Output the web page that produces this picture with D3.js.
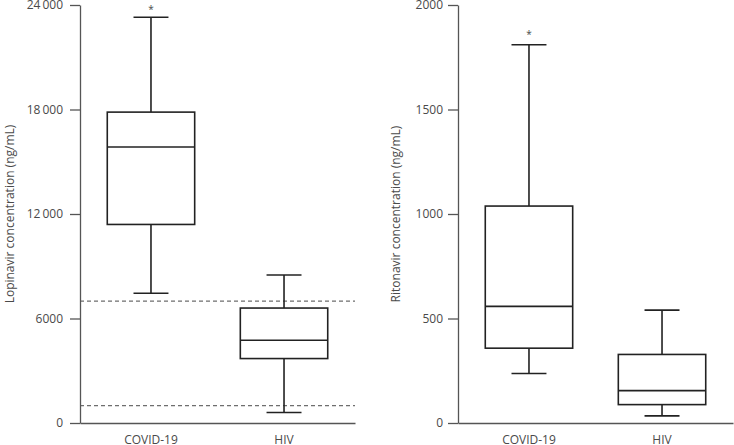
<!DOCTYPE html>
<html lang="en">
	<head>
		<meta charset="utf-8">
		<title>Lopinavir and ritonavir concentrations</title>
		<script type="text/javascript" src="https://cdn.jsdelivr.net/npm/d3@7"></script>
		<style type="text/css">
			body { margin: 0; background: #fff; }
			text { font-family: "Open Sans", sans-serif; fill: #4a4a4a; }
		</style>
	</head>
	<body>
		<script type="text/javascript">

			//Data
			var groups = ["COVID-19", "HIV"];

			// [lower whisker, Q1, median, Q3, upper whisker]
			var lopinavirBoxes = [
				[7450, 11400, 15850, 17850, 23300],
				[600, 3700, 4750, 6600, 8500]
			];
			var ritonavirBoxes = [
				[237, 358, 558, 1038, 1810],
				[34, 88, 155, 328, 540]
			];

			var lopinavirTicks = [0, 6000, 12000, 18000, 24000];
			var ritonavirTicks = [0, 500, 1000, 1500, 2000];

			var lopinavirRefLines = [7000, 1000];
			var lopinavirStar = [23900, null];
			var ritonavirStar = [1870, null];

			//Size
			var w = 734;
			var h = 445;

			var svg = d3.select("body")
						.append("svg")
						.attr("width", w)
						.attr("height", h);

			var fmt = function(d) {
				return d >= 10000 ? d3.format(",")(d).replace(",", "\u2009") : String(d);
			};

			function drawPanel(opts) {
				var g = svg.append("g");

				var x = d3.scaleBand()
						  .domain(groups)
						  .range([opts.left, opts.right])
						  .paddingInner(0.343)
						  .paddingOuter(0.205);

				var y = d3.scaleLinear()
						  .domain([0, opts.max])
						  .range([423, 5]);

				// reference lines
				g.selectAll("line.ref")
				 .data(opts.refs || [])
				 .enter()
				 .append("line")
				 .attr("x1", opts.left)
				 .attr("x2", opts.right)
				 .attr("y1", function(d) { return y(d); })
				 .attr("y2", function(d) { return y(d); })
				 .attr("stroke", "#6e6e6e")
				 .attr("stroke-width", 1.2)
				 .attr("stroke-dasharray", "4,3");

				// y axis
				var yAxis = g.append("g")
							 .attr("transform", "translate(" + opts.left + ",0)")
							 .call(d3.axisLeft(y)
									 .tickValues(opts.ticks)
									 .tickFormat(fmt)
									 .tickSize(10)
									 .tickSizeOuter(0)
									 .tickPadding(opts.pad));
				yAxis.select(".domain").attr("stroke", "#555").attr("stroke-width", 1.3);
				yAxis.selectAll(".tick line").attr("stroke", "#555").attr("stroke-width", 1.3);
				yAxis.selectAll(".tick text")
					 .attr("font-size", "12px")
					 .attr("font-family", "'Open Sans', sans-serif")
					 .attr("fill", "#4a4a4a");

				// x axis
				var xAxis = g.append("g")
							 .attr("transform", "translate(0,423)")
							 .call(d3.axisBottom(x).tickSize(0).tickPadding(12));
				xAxis.select(".domain").attr("stroke", "#555").attr("stroke-width", 1.3);
				xAxis.selectAll(".tick text")
					 .attr("font-size", "12px")
					 .attr("font-family", "'Open Sans', sans-serif")
					 .attr("fill", "#4a4a4a");

				// boxes
				var bw = x.bandwidth();
				var box = g.selectAll("g.box")
						   .data(opts.boxes)
						   .enter()
						   .append("g")
						   .attr("transform", function(d, i) {
								return "translate(" + x(groups[i]) + ",0)";
						   });

				box.append("line")
				   .attr("x1", bw / 2).attr("x2", bw / 2)
				   .attr("y1", function(d) { return y(d[0]); })
				   .attr("y2", function(d) { return y(d[4]); });

				box.append("rect")
				   .attr("x", 0)
				   .attr("width", bw)
				   .attr("y", function(d) { return y(d[3]); })
				   .attr("height", function(d) { return y(d[1]) - y(d[3]); })
				   .attr("fill", "#fff");

				box.append("line")
				   .attr("x1", 0).attr("x2", bw)
				   .attr("y1", function(d) { return y(d[2]); })
				   .attr("y2", function(d) { return y(d[2]); });

				[0, 4].forEach(function(k) {
					box.append("line")
					   .attr("x1", bw * 0.3).attr("x2", bw * 0.7)
					   .attr("y1", function(d) { return y(d[k]); })
					   .attr("y2", function(d) { return y(d[k]); });
				});

				box.selectAll("line, rect")
				   .attr("stroke", "#222")
				   .attr("stroke-width", 1.6);

				// significance stars
				g.selectAll("text.star")
				 .data(opts.stars)
				 .enter()
				 .filter(function(d) { return d !== null; })
				 .append("text")
				 .attr("class", "star")
				 .attr("x", function(d, i) { return x(groups[i]) + bw / 2; })
				 .attr("y", function(d) { return y(d) + 6; })
				 .attr("text-anchor", "middle")
				 .attr("font-size", "10px")
				 .attr("fill", "#777")
				 .text("*");

				// y title
				g.append("text")
				 .attr("transform", "translate(" + opts.titleX + ",214) rotate(-90)")
				 .attr("text-anchor", "middle")
				 .attr("font-size", "12px")
				 .text(opts.title);
			}

			drawPanel({
				left: 80, right: 355, max: 24000,
				ticks: lopinavirTicks, pad: 7,
				boxes: lopinavirBoxes, refs: lopinavirRefLines,
				stars: lopinavirStar,
				title: "Lopinavir concentration (ng/mL)", titleX: 14
			});

			drawPanel({
				left: 458, right: 733, max: 2000,
				ticks: ritonavirTicks, pad: 5,
				boxes: ritonavirBoxes, refs: [],
				stars: ritonavirStar,
				title: "Ritonavir concentration (ng/mL)", titleX: 400
			});

		</script>
	</body>
</html>
